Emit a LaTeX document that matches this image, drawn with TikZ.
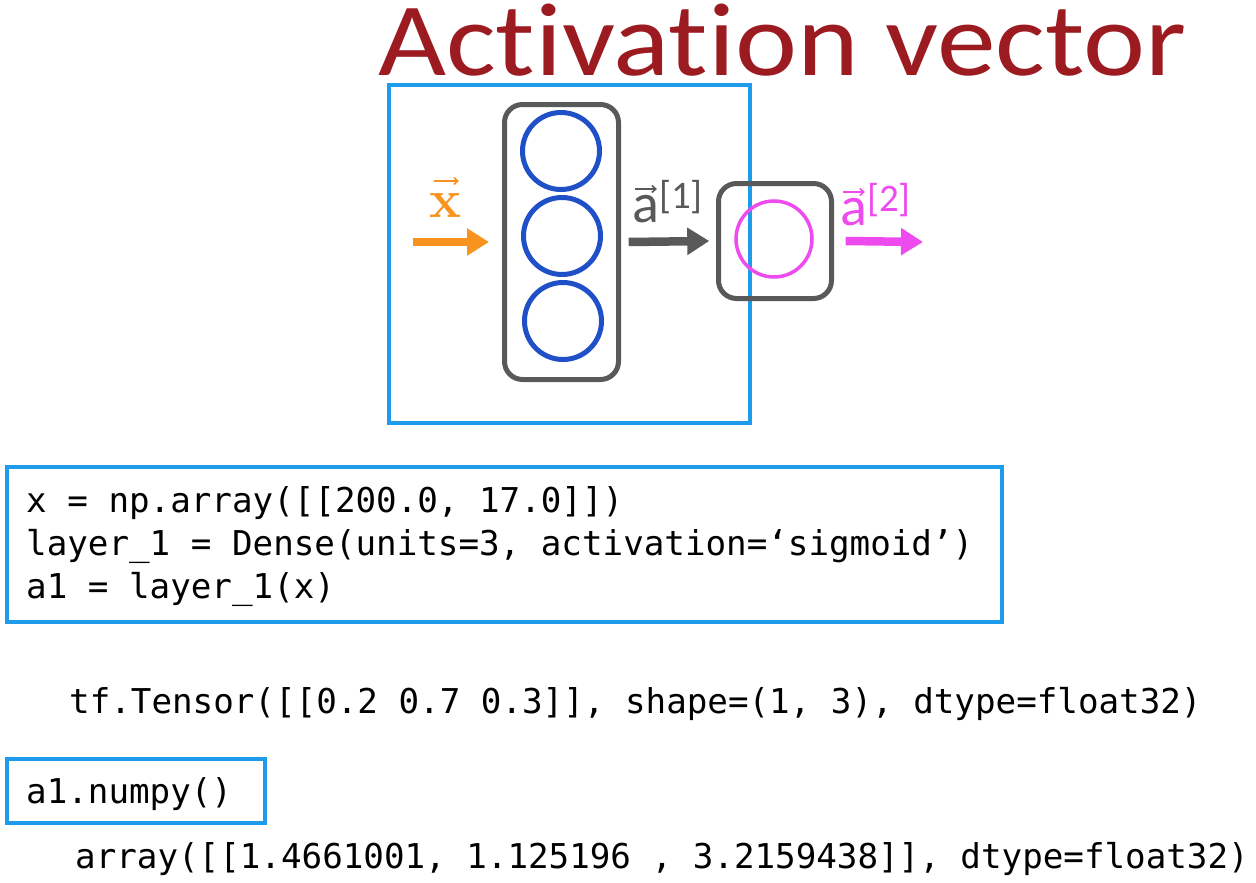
\documentclass[tikz,border=0pt]{standalone}
\usepackage{fontspec}
\setsansfont{Carlito}[Ligatures=CommonOff]
\setmonofont{DejaVu Sans Mono}
\usetikzlibrary{arrows.meta}
\definecolor{titlered}{HTML}{9B1B20}
\definecolor{lightblue}{HTML}{1E9BEA}
\definecolor{circblue}{HTML}{1F50C8}
\definecolor{boxgray}{HTML}{595959}
\definecolor{xorange}{HTML}{F7931E}
\definecolor{magent}{HTML}{EE4BEE}
\tikzset{
  frame/.style={draw=lightblue, line width=4pt},
  layerbox/.style={draw=boxgray, line width=5pt, rounded corners=18pt},
  neuron/.style={circle, draw=circblue, line width=5pt, minimum size=77pt, inner sep=0pt},
  outneuron/.style={circle, draw=magent, line width=3.5pt, minimum size=76pt, inner sep=0pt},
  bigarrow/.style={line width=8.5pt, -{Triangle[length=22pt,width=26pt]}},
  vecacc/.style={line width=1.6pt, -{Straight Barb[length=4pt,width=7pt]}},
  code/.style={font=\ttfamily\fontsize{34.2}{40}\selectfont, anchor=base west, inner sep=0pt},
  veclabel/.style={font=\sffamily\fontsize{56}{64}\selectfont, anchor=base west, inner sep=0pt}
}
\begin{document}
\begin{tikzpicture}[x=1pt, y=-1pt]
\useasboundingbox (0,0) rectangle (1256,883);
% title
\node[anchor=base west, inner sep=0pt, text=titlered, font=\sffamily\fontsize{104}{112}\selectfont] (title) at (378,75) {\scalebox{1.13}[1]{Activation vector}};
% blue frame
\draw[frame] (389,85.5) rectangle (750,422.5);
% layer 1
\draw[layerbox] (504.5,104.5) rectangle (618.5,379.5);
\node[inner sep=0pt, minimum width=114pt, minimum height=275pt] (L1) at (561.5,242) {};
\node[neuron] (n1) at (561,151) {};
\node[neuron] (n2) at (562,236) {};
\node[neuron] (n3) at (563,321) {};
% layer 2
\draw[layerbox] (718.5,183.5) rectangle (831.5,298.5);
\node[inner sep=0pt, minimum width=113pt, minimum height=115pt] (L2) at (775,241) {};
\node[outneuron] (m1) at (774,239) {};
% input arrow
\coordinate (xin) at (413,242);
\coordinate (xend) at (489,242);
\draw[bigarrow, xorange] (xin) -- (xend);
\node[anchor=base, inner sep=0pt, text=xorange, font=\bfseries\fontsize{54}{60}\selectfont] (xlab) at (446,217) {x};
\draw[vecacc, xorange] (434,181) -- (459,181);
% a1 arrow
\draw[bigarrow, boxgray] ([xshift=10pt]L1.east) -- ([xshift=-9pt]L2.west);
\node[veclabel, text=boxgray] (a1lab) at (632,222) {a\raisebox{14pt}{\fontsize{39}{42}\selectfont[1]}};
\draw[vecacc, boxgray] (635,189) -- (657,189);
% a2 arrow
\coordinate (aout) at (923,242);
\draw[bigarrow, magent] ([xshift=14pt]L2.east) -- (aout);
\node[veclabel, text=magent] (a2lab) at (840,225) {a\raisebox{14pt}{\fontsize{39}{42}\selectfont[2]}};
\draw[vecacc, magent] (843,192) -- (865,192);
% code box 1
\draw[frame] (7,467) rectangle (1002,622);
\node[code] (c1) at (26,512) {x = np.array([[200.0, 17.0]])};
\node[code] (c2) at (26,555) {layer\_1 = Dense(units=3, activation=‘sigmoid’)};
\node[code] (c3) at (26,598) {a1 = layer\_1(x)};
% output
\node[code] (t1) at (69,713) {tf.Tensor([[0.2 0.7 0.3]], shape=(1, 3), dtype=float32)};
% numpy box
\draw[frame] (7,759) rectangle (265,823);
\node[code] (np1) at (26,803) {a1.numpy()};
\node[code] (ar1) at (75,868) {array([[1.4661001, 1.125196 , 3.2159438]], dtype=float32)};
\end{tikzpicture}
\end{document}
